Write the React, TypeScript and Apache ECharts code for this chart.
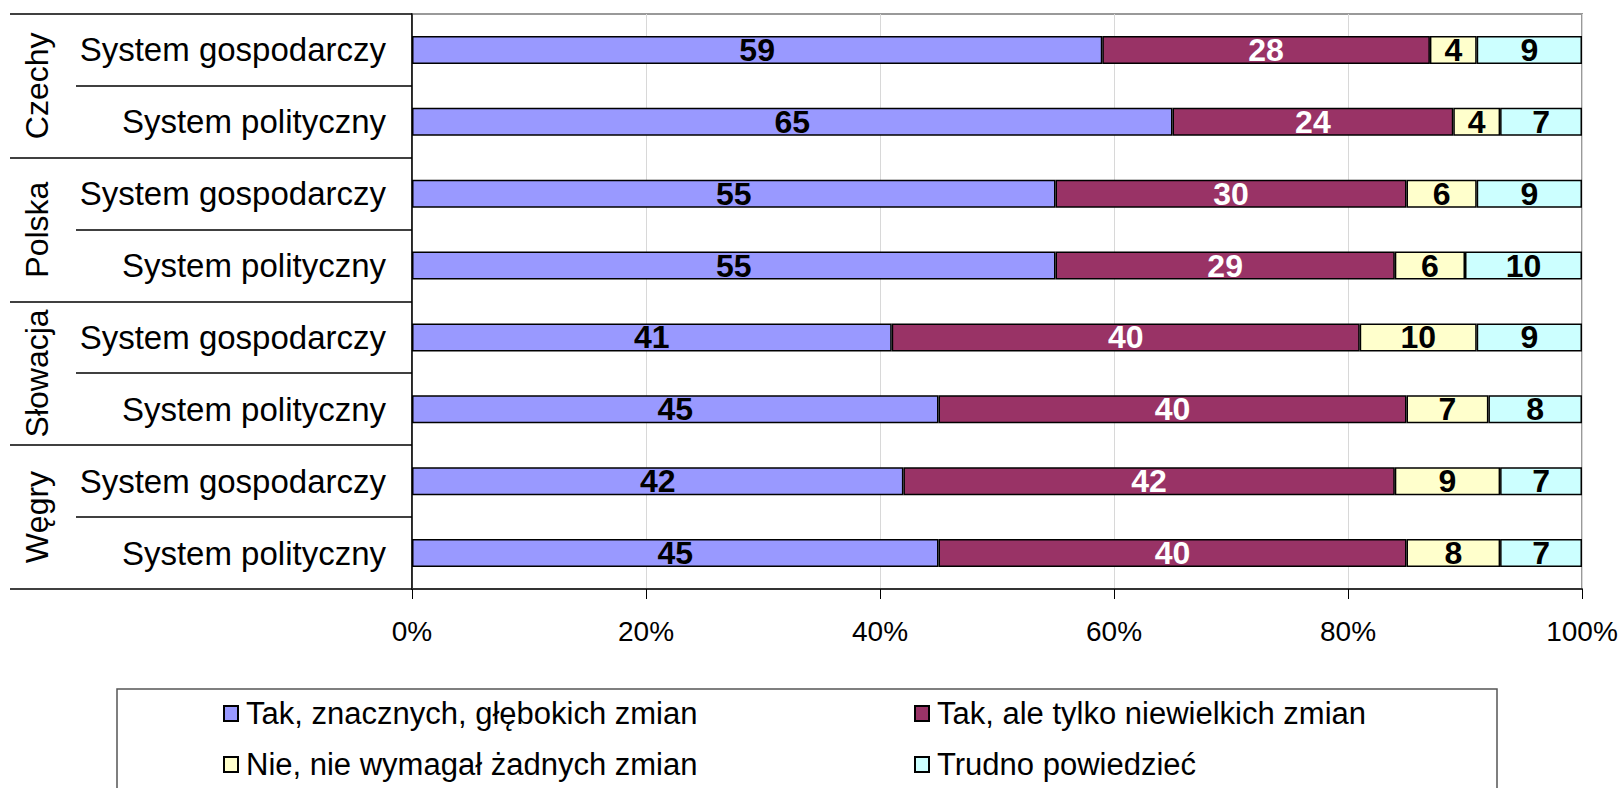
import React, { useEffect, useRef } from "react";
import * as echarts from "echarts";

const groups = ["Czechy", "Polska", "Słowacja", "Węgry"];
const categories = [
  "System gospodarczy", "System polityczny",
  "System gospodarczy", "System polityczny",
  "System gospodarczy", "System polityczny",
  "System gospodarczy", "System polityczny",
];
const seriesNames = [
  "Tak, znacznych, głębokich zmian",
  "Tak, ale tylko niewielkich zmian",
  "Nie, nie wymagał żadnych zmian",
  "Trudno powiedzieć",
];
const deepChange = [59, 65, 55, 55, 41, 45, 42, 45];
const smallChange = [28, 24, 30, 29, 40, 40, 42, 40];
const noChange = [4, 4, 6, 6, 10, 7, 9, 8];
const hardToSay = [9, 7, 9, 10, 9, 8, 7, 7];
const xTicks = [0, 20, 40, 60, 80, 100];

const colors = ["#9999FF", "#993366", "#FFFFCC", "#CCFFFF"];
const labelColors = ["#000", "#fff", "#000", "#000"];
const FONT = "'Liberation Sans', Arial, sans-serif";

export default function App() {
  const ref = useRef<HTMLDivElement>(null);
  useEffect(() => {
    if (!ref.current) return;
    const chart = echarts.init(ref.current, null, { renderer: "svg" });
    const W = 1624, H = 788;
    const gTop = 14, gBottom = 589, gLeft = 412, gRight = 1582;
    const band = (gBottom - gTop) / categories.length;
    const values = [deepChange, smallChange, noChange, hardToSay];

    const graphics: any[] = [];
    for (let i = 0; i <= categories.length; i++) {
      const y = Math.round(gTop + i * band);
      const full = i % 2 === 0;
      graphics.push({
        type: "line",
        shape: { x1: full ? 10 : 76, y1: y, x2: gLeft, y2: y },
        style: { stroke: "#000", lineWidth: 1.5 },
        z: 5,
      });
    }
    groups.forEach((g, i) => {
      graphics.push({
        type: "text",
        x: 37,
        y: gTop + (2 * i + 1) * band,
        rotation: Math.PI / 2,
        style: {
          text: g,
          fontSize: 32,
          fontFamily: FONT,
          fill: "#000",
          align: "center",
          verticalAlign: "middle",
        },
      });
    });
    graphics.push({
      type: "rect",
      shape: { x: 117, y: 689, width: 1380, height: 120 },
      style: { fill: "#fff", stroke: "#555", lineWidth: 1.5 },
      z: -1,
    });

    const legendBase = {
      orient: "vertical",
      top: 698,
      padding: 0,
      itemWidth: 14,
      itemHeight: 15,
      itemGap: 20,
      icon: "rect",
      textStyle: { fontSize: 31, fontFamily: FONT, color: "#000", lineHeight: 30, padding: [0, 0, 0, 3] },
    };

    chart.setOption({
      animation: false,
      textStyle: { fontFamily: FONT },
      grid: {
        left: gLeft, right: W - gRight, top: gTop, bottom: H - gBottom,
        show: true, borderColor: "#999", borderWidth: 2, containLabel: false,
      },
      legend: [
        { ...legendBase, left: 223, data: [seriesNames[0], seriesNames[2]] },
        { ...legendBase, left: 914, data: [seriesNames[1], seriesNames[3]] },
      ],
      xAxis: {
        type: "value",
        min: xTicks[0],
        max: xTicks[xTicks.length - 1],
        interval: 20,
        axisLine: { show: true, lineStyle: { color: "#333", width: 2 } },
        axisTick: { show: true, length: 10, lineStyle: { color: "#000", width: 1 } },
        splitLine: { show: true, lineStyle: { color: "#d8d8d8", width: 1 } },
        axisLabel: { formatter: "{value}%", fontSize: 28, color: "#000", margin: 28, fontFamily: FONT },
      },
      yAxis: {
        type: "category",
        inverse: true,
        data: categories,
        axisLine: { show: true, lineStyle: { color: "#000", width: 1.5 } },
        axisTick: { show: false },
        axisLabel: { fontSize: 33, color: "#000", margin: 26, fontFamily: FONT },
      },
      series: seriesNames.map((name, i) => ({
        name,
        type: "bar",
        stack: "total",
        data: values[i],
        barWidth: 28,
        itemStyle: { color: colors[i], borderColor: "#000", borderWidth: 1.5 },
        label: {
          show: true,
          position: "inside",
          fontSize: 32,
          fontWeight: "bold",
          color: labelColors[i],
          fontFamily: FONT,
        },
      })),
      graphic: graphics,
    });
    return () => chart.dispose();
  }, []);
  return (
    <div
      ref={ref}
      style={{ position: "absolute", left: 0, top: 0, width: 1624, height: 788 }}
    />
  );
}
